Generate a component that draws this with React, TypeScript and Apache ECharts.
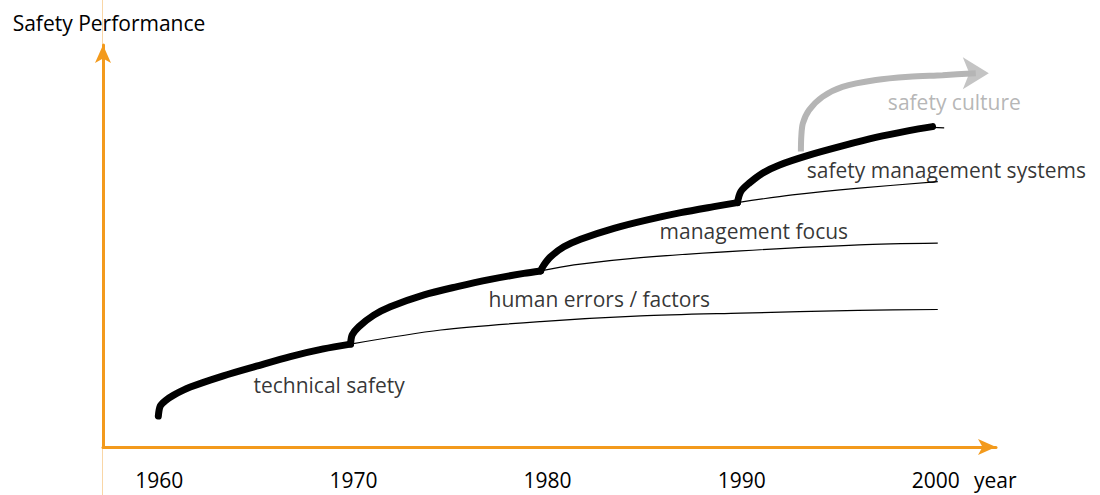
import React, { useEffect, useRef } from "react";
import * as echarts from "echarts";

// Era curves: [year, safety performance]
const technicalSafety = [[1959.95, 7.7], [1960.05, 10.2], [1960.31, 11.5], [1960.74, 12.9], [1961.6, 14.9], [1963.3, 17.7], [1965.0, 20.1], [1966.75, 22.5], [1968.45, 24.4], [1969.85, 25.6]];
const technicalTail = [[1969.85, 25.6], [1974.5, 29.1], [1979.64, 31.2], [1984.8, 32.6], [1989.95, 33.3], [1996.0, 34.0], [2000.1, 34.2]];
const humanFactors = [[1969.85, 25.6], [1969.94, 27.9], [1970.27, 29.9], [1971.05, 32.8], [1971.9, 34.9], [1973.6, 37.8], [1975.35, 39.9], [1977.06, 41.7], [1978.78, 43.2], [1979.64, 43.8]];
const humanTail = [[1979.64, 43.8], [1981.36, 45.3], [1984.8, 47.1], [1989.95, 48.8], [1996.05, 50.3], [2000.1, 50.7]];
const managementFocus = [[1979.64, 43.8], [1979.81, 45.3], [1980.15, 47.3], [1980.84, 49.8], [1981.7, 51.7], [1983.42, 54.4], [1985.14, 56.5], [1986.86, 58.3], [1988.57, 59.8], [1989.78, 60.8]];
const managementTail = [[1989.78, 60.8], [1992.61, 62.7], [1996.05, 64.4], [2000.1, 66.0]];
const safetyMgmtSystems = [[1989.78, 60.8], [1989.95, 63.5], [1990.38, 65.6], [1991.07, 68.1], [1991.92, 70.1], [1993.47, 72.6], [1995.19, 74.9], [1996.91, 77.0], [1998.62, 78.7], [1999.83, 79.7]];
const safetyMgmtTail = [[1999.83, 79.5], [2000.43, 79.4]];
const safetyCulture = [[1993.05, 73.5], [1993.07, 77.2], [1993.15, 80.5], [1993.47, 83.8], [1994.16, 87.1], [1995.19, 89.6], [1996.91, 91.3], [1998.62, 92.1], [2000.35, 92.5], [2002.06, 93.0]];
const safetyCultureHead = [[2002.73, 93.0]];

const yearTicks = [1960, 1970, 1980, 1990, 2000];
const eraLabels = ["technical safety", "human errors / factors", "management focus", "safety management systems"];
const eraLabelAnchors = [[1964.85, 15.4], [1976.96, 36.8], [1985.77, 53.7], [1993.35, 68.9]];
const cultureLabel = "safety culture";
const cultureLabelAnchor = [1997.53, 85.8];

const ORANGE = "#f39a1c";
const FONT = "Open Sans";
const FS = 21;
const SMOOTH = 0.3;

export default function App() {
  const ref = useRef<HTMLDivElement>(null);
  useEffect(() => {
    const chart = echarts.init(ref.current!, null, { renderer: "svg" });
    const thick = (data: number[][]) => ({
      type: "line", data, smooth: SMOOTH, symbol: "none", silent: true, z: 5,
      lineStyle: { color: "#000", width: 7, cap: "round", join: "round" },
    });
    const thin = (data: number[][]) => ({
      type: "line", data, smooth: SMOOTH, symbol: "none", silent: true, z: 3,
      lineStyle: { color: "#000", width: 1.2 },
    });
    chart.setOption({
      animation: false,
      textStyle: { fontFamily: FONT },
      grid: { left: 103, right: 104, top: 45, bottom: 48 },
      xAxis: {
        type: "value", min: 1957.1, max: 2003.1,
        axisLine: { lineStyle: { color: ORANGE, width: 3 }, symbol: ["none", "arrow"], symbolSize: [12, 18] },
        axisTick: { show: false },
        splitLine: { show: false },
        axisLabel: { customValues: yearTicks, formatter: (v: number) => String(v), color: "#000", fontSize: FS, margin: 22, fontFamily: FONT },
        name: "year", nameLocation: "end", nameGap: -22,
        nameTextStyle: { color: "#000", fontSize: FS, verticalAlign: "top", padding: [22, 0, 0, 0], align: "left" },
      },
      yAxis: {
        type: "value", min: 0, max: 100,
        axisLine: { lineStyle: { color: ORANGE, width: 3 }, symbol: ["none", "arrow"], symbolSize: [12, 18] },
        axisTick: { show: false },
        axisLabel: { show: false },
        splitLine: { show: false },
        name: "Safety Performance", nameLocation: "end", nameGap: 12,
        nameTextStyle: { color: "#000", fontSize: FS, padding: [0, 0, 0, 12] },
      },
      graphic: [
        { type: "rect", z: -1, shape: { x: 102, y: 0, width: 1, height: 495 }, style: { fill: "#f9d6a6" } },
      ],
      series: [
        thin(technicalTail), thin(humanTail), thin(managementTail), thin(safetyMgmtTail),
        thick(technicalSafety), thick(humanFactors), thick(managementFocus), thick(safetyMgmtSystems),
        {
          type: "line", data: safetyCulture, smooth: SMOOTH, symbol: "none", silent: true, z: 4,
          lineStyle: { color: "#b5b5b5", width: 6 },
        },
        {
          type: "scatter", data: safetyCultureHead, symbol: "arrow", symbolRotate: -90,
          symbolSize: [24, 26], itemStyle: { color: "#b5b5b5" }, silent: true, z: 4,
        },
        {
          type: "scatter", symbolSize: 0, silent: true, z: 6,
          data: eraLabelAnchors.map((p, i) => ({ value: p, name: eraLabels[i] })),
          label: { show: true, position: "right", distance: 0, formatter: "{b}", color: "#000", fontSize: FS, fontFamily: FONT },
        },
        {
          type: "scatter", symbolSize: 0, silent: true, z: 6,
          data: [{ value: cultureLabelAnchor, name: cultureLabel }],
          label: { show: true, position: "right", distance: 0, formatter: "{b}", color: "#a3a3a3", fontSize: FS, fontFamily: FONT },
        },
      ],
    });
    return () => chart.dispose();
  }, []);
  return <div ref={ref} style={{ width: 1100, height: 495, position: "absolute", left: 0, top: 0 }} />;
}
